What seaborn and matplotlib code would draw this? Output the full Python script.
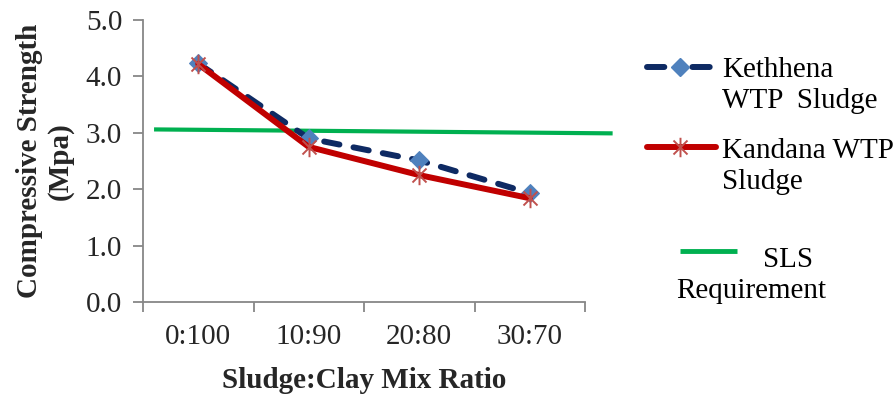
import numpy as np
import matplotlib
matplotlib.use("Agg")
import matplotlib.pyplot as plt
from matplotlib.path import Path
from matplotlib.lines import Line2D
import seaborn as sns

# Compressive strength (MPa) of clay bricks for each sludge:clay mix ratio
ratios = ["0:100", "10:90", "20:80", "30:70"]
kethhena = [4.23, 2.90, 2.51, 1.93]
kandana = [4.22, 2.75, 2.25, 1.84]
sls_requirement = [3.06, 2.99]  # reference line, start and end value
y_ticks = [0.0, 1.0, 2.0, 3.0, 4.0, 5.0]

sns.set_theme(style="white")
plt.rcParams["font.family"] = ["Liberation Serif", "DejaVu Serif"]
plt.rcParams["mathtext.default"] = "regular"

NAVY = "#0E2A63"
DIAMOND = "#4F81BD"
RED = "#C00000"
STAR = "#C0504D"
GREEN = "#00B050"
AXIS = "#878787"
FS = 21

# Excel-style asterisk: vertical stroke plus an X
star_path = Path(
    [(0, -1), (0, 1), (-0.72, -0.72), (0.72, 0.72), (-0.72, 0.72), (0.72, -0.72)],
    [Path.MOVETO, Path.LINETO, Path.MOVETO, Path.LINETO, Path.MOVETO, Path.LINETO],
)

W, H = 896, 394
fig = plt.figure(figsize=(W / 100, H / 100), dpi=100)
ax = fig.add_axes([143 / W, 1 - 302 / H, (585 - 143) / W, (302 - 20) / H])

pos = np.arange(len(ratios))

# SLS requirement line runs a little beyond the category range
sls_x = [pos[0] - 0.4, pos[-1] + 0.75]
ax.plot(sls_x, sls_requirement, color=GREEN, lw=3.0, solid_capstyle="butt",
        clip_on=False, zorder=1)

sns.lineplot(x=pos, y=kethhena, ax=ax, color=NAVY, lw=4.3,
             linestyle=(0, (2.6, 2.4)), dash_capstyle="round",
             marker="D", markersize=9, markerfacecolor=DIAMOND,
             markeredgecolor=DIAMOND, zorder=2, clip_on=False)
sns.lineplot(x=pos, y=kandana, ax=ax, color=RED, lw=4.3,
             marker=star_path, markersize=14, markerfacecolor="none",
             markeredgecolor=STAR, markeredgewidth=1.4, zorder=3, clip_on=False)

ax.set_xlim(-0.5, len(ratios) - 0.5)
ax.set_ylim(0, 5)
ax.set_yticks(y_ticks)
ax.set_yticklabels([f"{v:.1f}" for v in y_ticks], fontsize=FS)

# category boundaries carry the tick marks, labels sit at the centres
ax.set_xticks(np.arange(-0.5, len(ratios), 1.0))
ax.set_xticklabels([])
ax.set_xticks(pos, minor=True)
ax.set_xticklabels(ratios, minor=True, fontsize=FS)
ax.tick_params(axis="x", which="major", direction="out", length=7, width=1.3,
               color=AXIS, bottom=True)
ax.tick_params(axis="x", which="minor", length=0, pad=16, labelsize=FS)
ax.tick_params(axis="y", direction="out", length=7, width=1.3, color=AXIS,
               left=True, pad=8, labelsize=FS)

for side in ("top", "right"):
    ax.spines[side].set_visible(False)
for side in ("left", "bottom"):
    ax.spines[side].set_color(AXIS)
    ax.spines[side].set_linewidth(1.3)

ax.set_xlabel("Sludge:Clay Mix Ratio", fontsize=FS, fontweight="bold", labelpad=12)
ax.set_ylabel("Compressive Strength\n(Mpa)", fontsize=FS, fontweight="bold",
              labelpad=9, linespacing=1.12)


def fx(px):
    return px / W


def fy(py):
    return 1 - py / H


# legend, drawn entry by entry
fig.add_artist(Line2D([fx(647), fx(710)], [fy(67), fy(67)], color=NAVY, lw=4.3,
                      linestyle=(0, (2.9, 4.7, 2.9, 10)), dash_capstyle="round"))
fig.add_artist(Line2D([fx(680)], [fy(67)], marker="D", markersize=9, linestyle="none",
                      markerfacecolor=DIAMOND, markeredgecolor=DIAMOND))
fig.add_artist(Line2D([fx(647), fx(716)], [fy(147), fy(147)], color=RED, lw=4.3,
                      solid_capstyle="round"))
fig.add_artist(Line2D([fx(680)], [fy(147)], marker=star_path, markersize=14,
                      linestyle="none", markerfacecolor="none",
                      markeredgecolor=STAR, markeredgewidth=1.4))
fig.add_artist(Line2D([fx(680), fx(737)], [fy(251), fy(251)], color=GREEN, lw=3.5,
                      solid_capstyle="butt"))

legend_text = [
    (722, 77, "Kethhena"),
    (722, 108, "WTP  Sludge"),
    (722, 158, "Kandana WTP"),
    (722, 189, "Sludge"),
    (763, 267, "SLS"),
    (676, 298, "Requirement"),
]
for px, py, s in legend_text:
    fig.text(fx(px), fy(py), s, fontsize=FS, ha="left", va="baseline", color="black")

fig.savefig("out.png", dpi=100, facecolor="white")
